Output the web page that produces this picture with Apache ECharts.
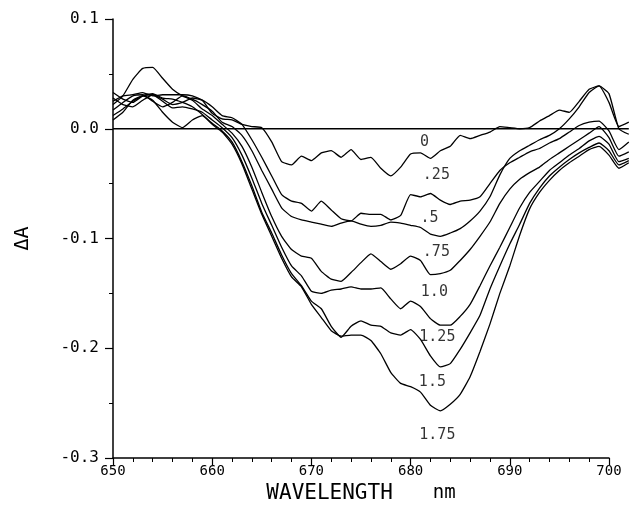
<!DOCTYPE html>
<html lang="en">
<head>
<meta charset="UTF-8">
<title>Difference spectra</title>
<style>
  html, body {margin:0; padding:0; background:#fff}
  #chart {width:643px; height:513px}
</style>
<script src="https://cdn.jsdelivr.net/npm/echarts/dist/echarts.min.js"></script>
</head>
<body>
<div id="chart"></div>
<script>
// wavelength grid (nm)
const wl = [650,651,652,653,654,655,656,657,658,659,660,661,662,663,664,665,666,667,668,669,
            670,671,672,673,674,675,676,677,678,679,680,681,682,683,684,685,686,687,688,689,
            690,691,692,693,694,695,696,697,698,699,700,701,702];

// delta A, one list per curve label
const c0   = [0,0,0,0,0,0,0,0,0,0,0,0,0,0,0,0,0,0,0,0,0,0,0,0,0,0,0,0,0,0,0,0,0,0,0,0,0,0,0,0,0,0,0,0,0,0,0,0,0,0,0,0,0];
const c025 = [0.025,0.030,0.031,0.033,0.030,0.031,0.031,0.031,0.030,0.026,0.014,0.009,0.008,0.004,0.002,0.001,-0.012,-0.030,-0.033,-0.025,
              -0.029,-0.022,-0.020,-0.026,-0.019,-0.028,-0.026,-0.036,-0.043,-0.035,-0.023,-0.022,-0.027,-0.020,-0.016,-0.006,-0.009,-0.006,-0.003,0.002,
              0.001,0.000,0.001,0.007,0.012,0.017,0.015,0.025,0.036,0.039,0.024,0.002,0.006];
const c05  = [0.028,0.022,0.020,0.026,0.031,0.027,0.022,0.024,0.028,0.026,0.020,0.012,0.010,0.004,-0.010,-0.026,-0.043,-0.060,-0.066,-0.068,
              -0.075,-0.066,-0.074,-0.082,-0.084,-0.077,-0.078,-0.078,-0.083,-0.079,-0.060,-0.062,-0.059,-0.065,-0.069,-0.066,-0.065,-0.062,-0.050,-0.038,
              -0.031,-0.026,-0.021,-0.018,-0.013,-0.009,-0.003,0.003,0.006,0.007,-0.002,-0.019,-0.012];
const c075 = [0.017,0.024,0.030,0.031,0.025,0.020,0.024,0.030,0.027,0.022,0.016,0.006,0.002,-0.006,-0.020,-0.038,-0.055,-0.072,-0.080,-0.083,
              -0.085,-0.087,-0.089,-0.086,-0.084,-0.087,-0.089,-0.088,-0.085,-0.086,-0.088,-0.090,-0.096,-0.098,-0.095,-0.091,-0.084,-0.075,-0.062,-0.042,
              -0.027,-0.020,-0.015,-0.010,-0.006,0.000,0.009,0.020,0.033,0.039,0.032,0.000,-0.005];
const c10  = [0.022,0.030,0.045,0.055,0.056,0.046,0.036,0.030,0.026,0.018,0.012,0.004,-0.004,-0.016,-0.035,-0.058,-0.080,-0.098,-0.110,-0.116,
              -0.118,-0.130,-0.137,-0.139,-0.131,-0.122,-0.114,-0.121,-0.128,-0.123,-0.116,-0.120,-0.133,-0.132,-0.129,-0.120,-0.110,-0.098,-0.085,-0.068,
              -0.055,-0.046,-0.040,-0.035,-0.028,-0.022,-0.016,-0.010,-0.004,0.002,-0.008,-0.025,-0.021];
const c125 = [0.012,0.018,0.025,0.030,0.031,0.025,0.019,0.020,0.018,0.015,0.008,0.001,-0.008,-0.024,-0.045,-0.068,-0.088,-0.108,-0.125,-0.134,
              -0.148,-0.150,-0.147,-0.146,-0.144,-0.146,-0.146,-0.145,-0.155,-0.164,-0.157,-0.162,-0.173,-0.179,-0.179,-0.171,-0.160,-0.143,-0.125,-0.108,
              -0.090,-0.072,-0.058,-0.048,-0.038,-0.031,-0.024,-0.018,-0.011,-0.007,-0.014,-0.030,-0.027];
const c15  = [0.033,0.027,0.024,0.030,0.032,0.028,0.027,0.024,0.020,0.013,0.005,-0.002,-0.012,-0.030,-0.052,-0.076,-0.095,-0.115,-0.132,-0.143,
              -0.157,-0.164,-0.180,-0.190,-0.180,-0.175,-0.179,-0.180,-0.186,-0.188,-0.183,-0.192,-0.207,-0.217,-0.214,-0.201,-0.186,-0.170,-0.146,-0.125,
              -0.105,-0.087,-0.068,-0.054,-0.043,-0.035,-0.028,-0.022,-0.017,-0.013,-0.020,-0.033,-0.029];
const c175 = [0.008,0.015,0.026,0.030,0.026,0.015,0.006,0.001,0.008,0.012,0.004,-0.003,-0.014,-0.032,-0.055,-0.078,-0.098,-0.118,-0.135,-0.144,
              -0.160,-0.172,-0.184,-0.189,-0.188,-0.188,-0.193,-0.205,-0.222,-0.232,-0.235,-0.240,-0.252,-0.257,-0.251,-0.242,-0.226,-0.203,-0.178,-0.150,
              -0.125,-0.097,-0.073,-0.058,-0.047,-0.038,-0.031,-0.025,-0.019,-0.016,-0.024,-0.036,-0.031];

const curveNames = ['0', '.25', '.5', '.75', '1.0', '1.25', '1.5', '1.75'];
const curves = [c0, c025, c05, c075, c10, c125, c15, c175];

// where each curve label sits (data coords)
const labelAt = [[681.4,-0.012],[682.6,-0.042],[681.9,-0.081],[682.6,-0.112],[682.4,-0.149],[682.7,-0.190],[682.2,-0.231],[682.7,-0.279]];

const mono = 'DejaVu Sans Mono';
const chart = echarts.init(document.getElementById('chart'));

// the traces run a little past 700 nm, so they live on a second, wider grid
// whose scale lines up with the visible axes (9.92 px per nm)
const lineSeries = curves.map((vals, k) => ({
  name: curveNames[k],
  type: 'line',
  xAxisIndex: 1,
  yAxisIndex: 1,
  data: wl.map((x, i) => [x, vals[i]]),
  showSymbol: false,
  smooth: k === 0 ? false : 0.15,
  silent: true,
  lineStyle: {color: '#000', width: k === 0 ? 1.5 : 1.3}
}));

const labelSeries = {
  type: 'scatter',
  xAxisIndex: 1,
  yAxisIndex: 1,
  silent: true,
  symbolSize: 1,
  itemStyle: {color: 'rgba(0,0,0,0)'},
  data: curveNames.map((n, k) => ({name: n, value: labelAt[k]})),
  label: {
    show: true,
    position: 'inside',
    formatter: p => p.name,
    color: '#000',
    fontSize: 15,
    fontFamily: mono
  }
};

chart.setOption({
  animation: false,
  backgroundColor: '#fff',
  grid: [
    {left: 113, right: 34, top: 19, bottom: 55},
    {left: 113, right: 14.2, top: 19, bottom: 55}
  ],
  xAxis: [{
    type: 'value',
    gridIndex: 0,
    min: 650, max: 700, interval: 10,
    name: '{a|WAVELENGTH}{b|nm}',
    nameLocation: 'middle',
    nameGap: 24,
    nameTextStyle: {
      rich: {
        a: {fontSize: 21, fontFamily: mono, color: '#000'},
        b: {fontSize: 19, fontFamily: mono, color: '#000', padding: [0, 0, 0, 40]}
      }
    },
    axisLine: {onZero: false, lineStyle: {color: '#000', width: 1.5}},
    axisTick: {length: 7, lineStyle: {color: '#000', width: 1.2}},
    minorTick: {show: true, splitNumber: 5, length: 4, lineStyle: {color: '#000', width: 1}},
    splitLine: {show: false},
    axisLabel: {color: '#000', fontSize: 14, fontFamily: mono, margin: 6}
  }, {
    type: 'value',
    gridIndex: 1,
    min: 650, max: 702,
    show: false
  }],
  yAxis: [{
    type: 'value',
    gridIndex: 0,
    min: -0.3, max: 0.1, interval: 0.1,
    name: 'ΔA',
    nameLocation: 'middle',
    nameRotate: 90,
    nameGap: 80,
    nameTextStyle: {fontSize: 20, fontFamily: mono, color: '#000'},
    axisLine: {onZero: false, lineStyle: {color: '#000', width: 1.5}},
    axisTick: {length: 8, lineStyle: {color: '#000', width: 1.2}},
    minorTick: {show: true, splitNumber: 2, length: 4, lineStyle: {color: '#000', width: 1}},
    splitLine: {show: false},
    axisLabel: {
      color: '#000', fontSize: 16, fontFamily: mono, margin: 14,
      formatter: v => (Math.abs(v) < 1e-9 ? 0 : v).toFixed(1)
    }
  }, {
    type: 'value',
    gridIndex: 1,
    min: -0.3, max: 0.1,
    show: false
  }],
  series: lineSeries.concat([labelSeries])
});
</script>
</body>
</html>
